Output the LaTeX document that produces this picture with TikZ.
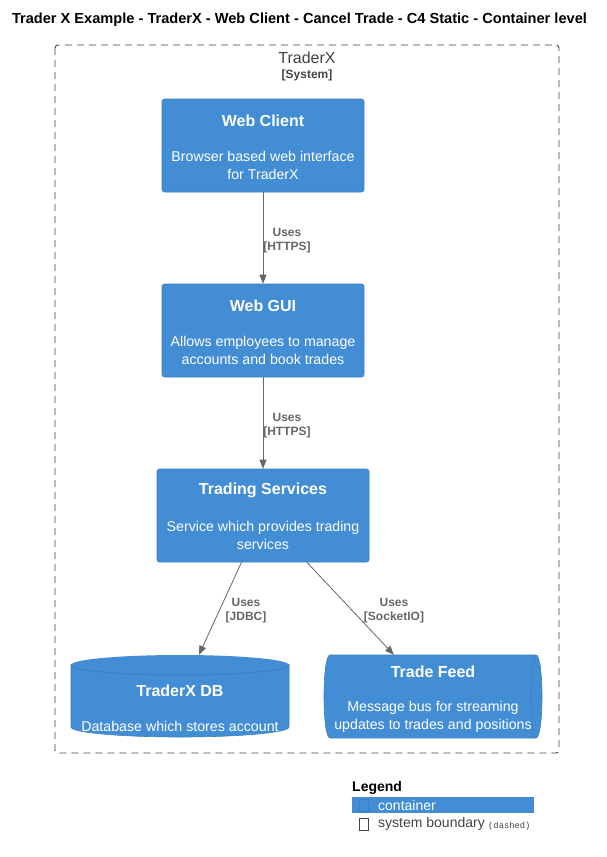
\documentclass[tikz,border=0pt]{standalone}
\usepackage{fontspec}
\setmainfont{Liberation Sans}
\newfontfamily\legmono{Liberation Mono}
\usetikzlibrary{arrows.meta}
\definecolor{c4blue}{HTML}{438DD5}
\definecolor{c4edge}{HTML}{3C7FC0}
\definecolor{arrowgray}{HTML}{666666}
\definecolor{bndgray}{HTML}{444444}
\tikzset{
  container/.style={draw=c4edge, fill=c4blue, rounded corners=2.5pt, line width=0.6pt, inner sep=0pt},
  ctitle/.style={text=white, font=\bfseries\fontsize{16}{19}\selectfont, inner sep=0pt, anchor=center},
  cdesc/.style={text=white, font=\fontsize{14.2}{17.5}\selectfont, align=center, inner sep=0pt, anchor=north},
  rel/.style={draw=arrowgray, line width=0.8pt, -{Triangle[length=9pt,width=7pt]}},
  rellabel/.style={text=arrowgray, font=\bfseries\fontsize{12}{14}\selectfont, align=center, inner sep=0pt},
  hidden/.style={draw=none, inner sep=0pt},
}
\begin{document}
\begin{tikzpicture}[x=1pt,y=-1pt]
\useasboundingbox[fill=white] (0,0) rectangle (606,857);
% title
\node[font=\bfseries\fontsize{14.6}{16}\selectfont, inner sep=0pt] (title) at (299.5,20) {Trader X Example - TraderX - Web Client - Cancel Trade - C4 Static - Container level};
% boundary
\draw[draw=bndgray, dash pattern=on 7pt off 5pt, line width=0.9pt, rounded corners=3pt] (55,45) rectangle (559,753);
\node[text=bndgray, font=\fontsize{16}{19}\selectfont, inner sep=0pt] (bt) at (307,58) {TraderX};
\node[text=bndgray, font=\bfseries\fontsize{12}{14}\selectfont, inner sep=0pt] (bs) at (307,75) {[System]};

% containers
\node[container, minimum width=202pt, minimum height=93pt] (wc) at (263,145.5) {};
\node[ctitle] (wct) at (263,120.5) {Web Client};
\node[cdesc] (wcd) at (263,151.5) {Browser based web interface\\for TraderX};

\node[container, minimum width=202pt, minimum height=93pt] (gui) at (263,330.5) {};
\node[ctitle] (guit) at (263,305.5) {Web GUI};
\node[cdesc] (guid) at (263,336.5) {Allows employees to manage\\accounts and book trades};

\node[container, minimum width=212pt, minimum height=93pt] (ts) at (263,515.5) {};
\node[ctitle] (tst) at (263,490.5) {Trading Services};
\node[cdesc] (tsd) at (263,521.5) {Service which provides trading\\services};

% database cylinder
\fill[c4blue] (71,665) arc[start angle=180, end angle=360, x radius=109, y radius=-10] -- (289,727) arc[start angle=0, end angle=-180, x radius=109, y radius=-10] -- cycle;
\fill[c4blue] (180,665) ellipse[x radius=109, y radius=10];
\draw[c4edge, line width=0.6pt] (71,665) arc[start angle=180, end angle=0, x radius=109, y radius=10] -- (289,727) arc[start angle=0, end angle=-180, x radius=109, y radius=-10] -- cycle;
\draw[c4edge, line width=0.6pt] (71,665) arc[start angle=180, end angle=360, x radius=109, y radius=-10];
\node[hidden, minimum width=218pt, minimum height=82pt] (db) at (180,696) {};
\node[ctitle] (dbt) at (180,690.5) {TraderX DB};
\node[cdesc, anchor=center] (dbd) at (180,726) {Database which stores account};

% queue
\filldraw[fill=c4blue, draw=c4edge, line width=0.6pt] (330,655) -- (536,655) .. controls (544,655) and (544,738) .. (536,738) -- (330,738) .. controls (322,738) and (322,655) .. (330,655) -- cycle;
\draw[c4edge, line width=0.6pt] (536,655) .. controls (529,655) and (529,738) .. (536,738);
\node[hidden, minimum width=218pt, minimum height=83pt] (tf) at (433,696.5) {};
\node[ctitle] (tft) at (433,671.5) {Trade Feed};
\node[cdesc] (tfd) at (433,701.5) {Message bus for streaming\\updates to trades and positions};

% relations
\draw[rel] (wc) -- (gui);
\node[rellabel] (l1) at (287,240.5) {Uses\\{}[HTTPS]};
\draw[rel] (gui) -- (ts);
\node[rellabel] (l2) at (287,425.5) {Uses\\{}[HTTPS]};
\draw[rel] (ts) -- (db);
\node[rellabel] (l3) at (246,610.5) {Uses\\{}[JDBC]};
\draw[rel] (ts) -- (tf);
\node[rellabel] (l4) at (394,610.5) {Uses\\{}[SocketIO]};

% legend
\node[anchor=west, font=\bfseries\fontsize{14}{16}\selectfont, inner sep=0pt] (lg) at (352,788) {Legend};
\fill[c4blue] (352,797) rectangle (534,813);
\draw[c4edge, line width=0.5pt] (359,799.5) rectangle (368,811.5);
\node[anchor=west, text=white, font=\fontsize{14}{15}\selectfont, inner sep=0pt] (lc) at (378,805) {container};
\draw[bndgray, line width=0.5pt] (359,818.5) rectangle (368,830.5);
\node[anchor=west, text=bndgray, font=\fontsize{14}{15}\selectfont, inner sep=0pt] (ls) at (378,824) {system boundary};
\node[anchor=west, text=bndgray, font=\legmono\fontsize{8.8}{10}\selectfont, inner sep=0pt] (lsd) at (488,826) {(dashed)};
\end{tikzpicture}
\end{document}
